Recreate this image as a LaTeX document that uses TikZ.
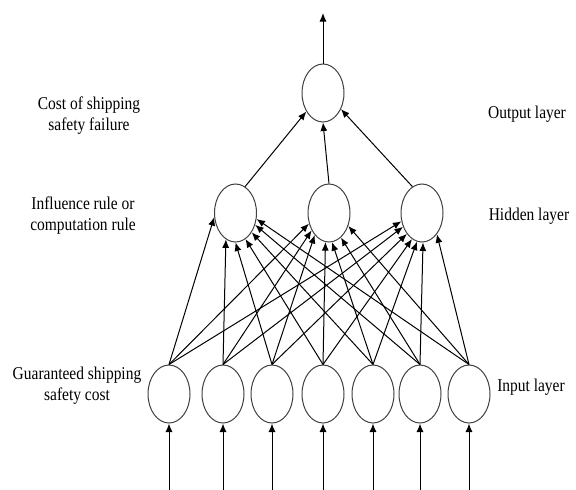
\documentclass[tikz,border=0pt]{standalone}
\usepackage{fontspec}
\setmainfont{Liberation Serif}[FakeStretch=0.86]
\usetikzlibrary{shapes.geometric,arrows.meta}
\begin{document}
\begin{tikzpicture}[x=1pt,y=-1pt,
  neuron/.style={ellipse,draw=black!75,line width=1pt,minimum width=42pt,minimum height=58pt,inner sep=0pt},
  conn/.style={line width=1pt,-{Latex[length=8.5pt,width=7pt]}},
  lbl/.style={align=center,font=\fontsize{18}{21}\selectfont,inner sep=0pt}]
\useasboundingbox (0,0) rectangle (576,490);
% input layer
\foreach \i/\x in {1/169,2/223,3/272,4/323,5/373,6/420,7/469}{
  \node[neuron] (in\i) at (\x,394) {};
  \coordinate (src\i) at (\x,490);
  \draw[conn] (src\i) -- (in\i.south);
}
% hidden layer
\node[neuron] (h1) at (235.5,213) {};
\node[neuron] (h2) at (329,213) {};
\node[neuron] (h3) at (422,213) {};
% output
\node[neuron] (out) at (323,93) {};
\coordinate (top) at (323,13);
% input -> hidden, with the end angles of the reference
\foreach \i/\a in {1/191,2/250,3/270,4/291,5/310,6/329,7/344}{
  \draw[conn] (in\i.north) -- (h1.\a);
}
\foreach \i/\a in {1/208,2/225,3/237,4/263,5/276,6/296,7/326}{
  \draw[conn] (in\i.north) -- (h2.\a);
}
\foreach \i/\a in {1/202,2/216,3/234,4/249,5/260,6/272,7/305}{
  \draw[conn] (in\i.north) -- (h3.\a);
}
% hidden -> output
\draw[conn] (h1.70) -- (out.228);
\draw[conn] (h2.north) -- (out.south);
\draw[conn] (h3.110) -- (out.318);
\draw[conn] (out.north) -- (top);
% labels
\node[lbl] (l1) at (89,116) {Cost of shipping\\safety failure};
\node[lbl] (l2) at (83,216) {Influence rule or\\computation rule};
\node[lbl] (l3) at (77,386) {Guaranteed shipping\\safety cost};
\node[lbl] (r1) at (527,114) {Output layer};
\node[lbl] (r2) at (529,216) {Hidden layer};
\node[lbl] (r3) at (531,387) {Input layer};
\end{tikzpicture}
\end{document}
